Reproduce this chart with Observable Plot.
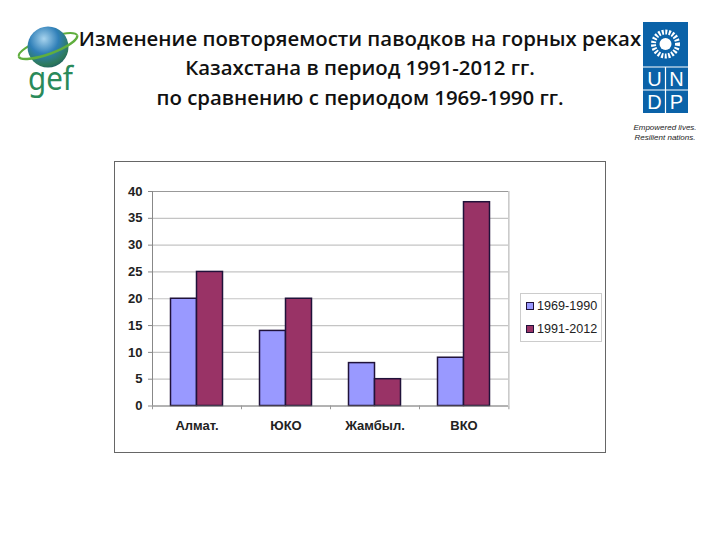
<!DOCTYPE html>
<html>
<head>
<meta charset="utf-8">
<script src="https://cdn.jsdelivr.net/npm/d3@7"></script>
<script src="https://cdn.jsdelivr.net/npm/@observablehq/plot@0.6"></script>
<style>
  body { margin: 0; background: white; width: 720px; height: 540px; position: relative; overflow: hidden; }
  #title { position: absolute; left: 0; top: 23.5px; width: 720px; text-align: center; font: 600 20.4px/29.5px "Open Sans", sans-serif; color: #111; }
  #box { position: absolute; left: 114px; top: 161px; width: 490px; height: 290px; border: 1.5px solid #666; }
  #chart { position: absolute; left: 0; top: 155px; }
  #legend { position: absolute; left: 520px; top: 293px; width: 75px; height: 46px; border: 1px solid #ccc; background: white;
            font: 12.6px "Liberation Sans", sans-serif; color: #222; padding: 1px 0 0 5px; }
  #legend div { height: 23px; line-height: 23px; white-space: nowrap; }
  #legend span { display: inline-block; width: 6px; height: 6px; border: 1px solid #20123a; margin-right: 3px; }
  #gef, #undp { position: absolute; left: 0; top: 0; }
</style>
</head>
<body>
<svg id="gef" width="100" height="110">
  <defs>
    <radialGradient id="globe" cx="0.4" cy="0.3" r="0.8">
      <stop offset="0" stop-color="#a8d4ee"/>
      <stop offset="0.45" stop-color="#2f7fb8"/>
      <stop offset="0.8" stop-color="#2d7a5a"/>
      <stop offset="1" stop-color="#174f6b"/>
    </radialGradient>
  </defs>
  <g transform="rotate(-20 48 46)">
    <path d="M17 46A31 8 0 0 1 79 46" fill="none" stroke="#5fae3e" stroke-width="2"/>
  </g>
  <circle cx="48" cy="47" r="20.5" fill="url(#globe)"/>
  <g transform="rotate(-20 48 46)">
    <path d="M17 46A31 8 0 0 0 79 46" fill="none" stroke="#5fae3e" stroke-width="2.5"/>
  </g>
  <text x="28" y="90" font-family="Noto Sans" font-size="33" textLength="45" lengthAdjust="spacingAndGlyphs" fill="#2a8a5a">gef</text>
</svg>
<svg id="undp" width="720" height="150">
  <rect x="643" y="22" width="45" height="91" fill="#0a62a8"/>
  <path d="M643 67H688M643 90H688M665.5 67V113" stroke="white" stroke-width="1.2"/>
  <circle cx="665.5" cy="44" r="12" fill="none" stroke="white" stroke-width="5" stroke-dasharray="2 1.5"/>
  <circle cx="665.5" cy="44" r="6" fill="white"/>
  <g font-family="Liberation Sans" font-size="20" fill="white" text-anchor="middle">
    <text x="654.5" y="86">U</text><text x="676.5" y="86">N</text>
    <text x="654.5" y="109">D</text><text x="676.5" y="109">P</text>
  </g>
  <g font-family="Liberation Sans" font-size="8" font-style="italic" fill="#222" text-anchor="middle">
    <text x="665" y="130">Empowered lives.</text><text x="665" y="140">Resilient nations.</text>
  </g>
</svg>
<div id="title">Изменение повторяемости паводков на горных реках<br>Казахстана в период 1991-2012 гг.<br>по сравнению с периодом 1969-1990 гг.</div>
<div id="box"></div>
<div id="chart"></div>
<div id="legend"></div>
<script>
const regions = ['Алмат.', 'ЮКО', 'Жамбыл.', 'ВКО']
const periods = ['1969-1990', '1991-2012']
const values_1969 = [20, 14, 8, 9]
const values_1991 = [25, 20, 5, 38]
const colors = ['#9999ff', '#993366']
const yTicks = [0, 5, 10, 15, 20, 25, 30, 35, 40]
const gridLines = [5, 10, 15, 20, 25, 30, 35]

const data = regions.flatMap((r, i) => [
  {region: r, period: periods[0], value: values_1969[i]},
  {region: r, period: periods[1], value: values_1991[i]}
])

// from the centre of the first bar band back to the facet edge, and on to its far edge
const toEdge = -31.5
const toEnd = 89.4 - 31.5

let chart = Plot.plot({
  width: 720,
  height: 385,
  marginLeft: 151.5,
  marginRight: 211,
  marginTop: 36,
  marginBottom: 134.5,
  style: {background: 'none'},
  fx: {domain: regions, padding: 0, label: null, axis: null},
  x: {domain: periods, paddingInner: 0, paddingOuter: 0.7, axis: null},
  y: {domain: [0, 40], label: null, axis: null},
  color: {domain: periods, range: colors},
  marks: [
    Plot.ruleY(gridLines, {stroke: '#c4c4c4', strokeWidth: 1.2}),
    Plot.ruleY([40], {stroke: '#999', strokeWidth: 1}),
    Plot.ruleX([regions[regions.length - 1]], {fx: d => d, x: () => periods[0], dx: toEnd, y1: 0, y2: 40, stroke: '#aaa'}),
    Plot.ruleX([regions[0]], {fx: d => d, x: () => periods[0], dx: toEdge, y1: 0, y2: 40, stroke: '#888'}),
    Plot.barY(data, {fx: 'region', x: 'period', y: 'value', fill: 'period', stroke: '#20123a', strokeWidth: 1.5}),
    Plot.ruleY([0], {stroke: '#666', strokeWidth: 1}),
    Plot.ruleX(regions, {fx: d => d, x: () => periods[0], dx: toEdge, y1: 0, y2: -0.7, stroke: '#999'}),
    Plot.ruleX([regions[regions.length - 1]], {fx: d => d, x: () => periods[0], dx: toEnd, y1: 0, y2: -0.7, stroke: '#999'}),
    Plot.axisY({ticks: yTicks, tickSize: 4, tickPadding: 6, stroke: '#888', fontSize: 13, fontWeight: 'bold', fill: '#222', fontFamily: 'Liberation Sans', label: null}),
    Plot.axisFx({anchor: 'bottom', tickSize: 0, tickPadding: 15, fontSize: 13, fontWeight: 'bold', fill: '#222', fontFamily: 'Liberation Sans', label: null})
  ]
})

d3.select('#chart').append(() => chart)

const legend = d3.select('#legend').selectAll('div').data(periods).join('div')
legend.append('span').style('background', (d, i) => colors[i])
legend.append('text').text(d => d)
</script>
</body>
</html>
